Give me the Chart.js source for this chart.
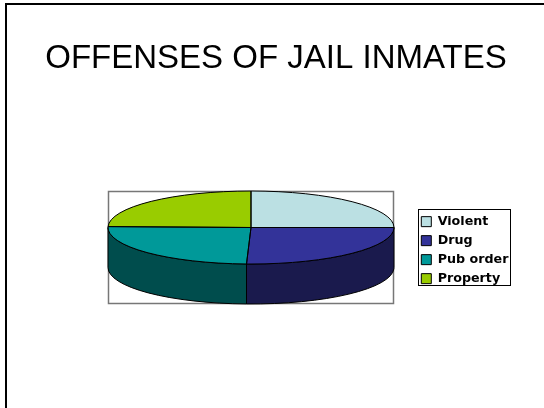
<!DOCTYPE html>
<html>
<head>
<meta charset="utf-8">
<script src="https://cdn.jsdelivr.net/npm/chart.js@4"></script>
<style>
html,body{margin:0;background:#fff;overflow:hidden}
#slide{position:absolute;left:5px;top:3px;width:539px;height:405px;border-left:2px solid #000;border-top:2px solid #000;box-sizing:border-box}
canvas{position:absolute;left:0;top:0}
</style>
</head>
<body>
<div id="slide"></div>
<canvas id="canvas" width="544" height="408"></canvas>
<script>
const categories = ['Violent', 'Drug', 'Pub order', 'Property'];
const shares = [25, 25.5, 24.9, 24.6];
const topColors = ['#BBE0E3', '#333399', '#009999', '#99CC00'];
const sideColors = ['#5E7072', '#1A1A4D', '#004D4D', '#4D6600'];

const plotBox = {left:108, top:191, right:394, bottom:304};
const legendBox = {left:418, top:209, right:511, bottom:286};
const topRy = 36.5;

// chart.js only does round pies, so squash the arcs and add the rim by hand
function pieShape(chart) {
    let rx = (plotBox.right-plotBox.left)/2;
    return {cx:plotBox.left+rx, cy:plotBox.top+topRy, rx:rx, ry:topRy, depth:plotBox.bottom-plotBox.top-2*topRy};
}

const pie3d = {
    id:'pie3d',
    afterLayout(chart) {
        chart.chartArea = Object.assign({}, plotBox, {width:plotBox.right-plotBox.left, height:plotBox.bottom-plotBox.top});
        let lg = chart.legend;
        lg.left = legendBox.left-3;
        lg.right = legendBox.right;
        lg.top = legendBox.top;
        lg.bottom = chart.height; // leave room, the last row wraps to a new column otherwise
    },
    beforeDatasetsDraw(chart) {
        let ctx = chart.ctx, s = pieShape(chart);
        let arcs = chart.getDatasetMeta(0).data;
        ctx.save();
        ctx.strokeStyle = '#777';
        ctx.lineWidth = 1.5;
        ctx.strokeRect(plotBox.left+0.5, plotBox.top+0.5, plotBox.right-plotBox.left-1, plotBox.bottom-plotBox.top-1);
        ctx.strokeStyle = '#000';
        ctx.lineWidth = 1;
        arcs.forEach((arc,i)=>{
            let a = Math.max(arc.startAngle, 0), b = Math.min(arc.endAngle, Math.PI);
            if (a>=b) return;
            ctx.beginPath();
            ctx.ellipse(s.cx, s.cy, s.rx, s.ry, 0, a, b);
            ctx.ellipse(s.cx, s.cy+s.depth, s.rx, s.ry, 0, b, a, true);
            ctx.closePath();
            ctx.fillStyle = sideColors[i];
            ctx.fill();
            ctx.stroke();
        });
        ctx.restore();
        let arc = arcs[0];
        ctx.save();
        ctx.translate(s.cx, s.cy);
        ctx.scale(s.rx/arc.outerRadius, s.ry/arc.outerRadius);
        ctx.translate(-arc.x, -arc.y);
    },
    afterDatasetsDraw(chart) {
        let ctx = chart.ctx, s = pieShape(chart);
        ctx.restore();
        ctx.save();
        ctx.strokeStyle = '#000';
        ctx.lineWidth = 1;
        chart.getDatasetMeta(0).data.forEach(arc=>{
            ctx.beginPath();
            ctx.moveTo(s.cx, s.cy);
            ctx.ellipse(s.cx, s.cy, s.rx, s.ry, 0, arc.startAngle, arc.endAngle);
            ctx.closePath();
            ctx.stroke();
        });
        ctx.restore();
    },
    afterDraw(chart) {
        let ctx = chart.ctx;
        ctx.save();
        ctx.strokeStyle = '#000';
        ctx.lineWidth = 1;
        ctx.strokeRect(legendBox.left+0.5, legendBox.top+0.5, legendBox.right-legendBox.left-1, legendBox.bottom-legendBox.top-1);
        ctx.restore();
    }
};

new Chart(document.getElementById('canvas').getContext('2d'), {
    type:'pie',
    data:{labels:categories, datasets:[{data:shares, backgroundColor:topColors, borderWidth:0, clip:false}]},
    options:{
        responsive:false,
        animation:false,
        events:[],
        layout:{padding:{left:8}},
        plugins:{
            tooltip:{enabled:false},
            title:{
                display:true,
                text:'OFFENSES OF JAIL INMATES',
                color:'#000',
                font:{family:'"Liberation Sans"', size:33, weight:'normal', lineHeight:1.2},
                padding:{top:39, bottom:10}
            },
            legend:{
                position:'right',
                align:'start',
                labels:{
                    color:'#000',
                    boxWidth:10,
                    boxHeight:10,
                    padding:6.3,
                    font:{family:'"DejaVu Sans"', size:12.7, weight:'bold'},
                    generateLabels(chart) {
                        return Chart.overrides.pie.plugins.legend.labels.generateLabels(chart).map(item=>{
                            item.lineWidth = 1;
                            item.strokeStyle = '#000';
                            return item;
                        });
                    }
                }
            }
        }
    },
    plugins:[pie3d]
});
</script>
</body>
</html>
